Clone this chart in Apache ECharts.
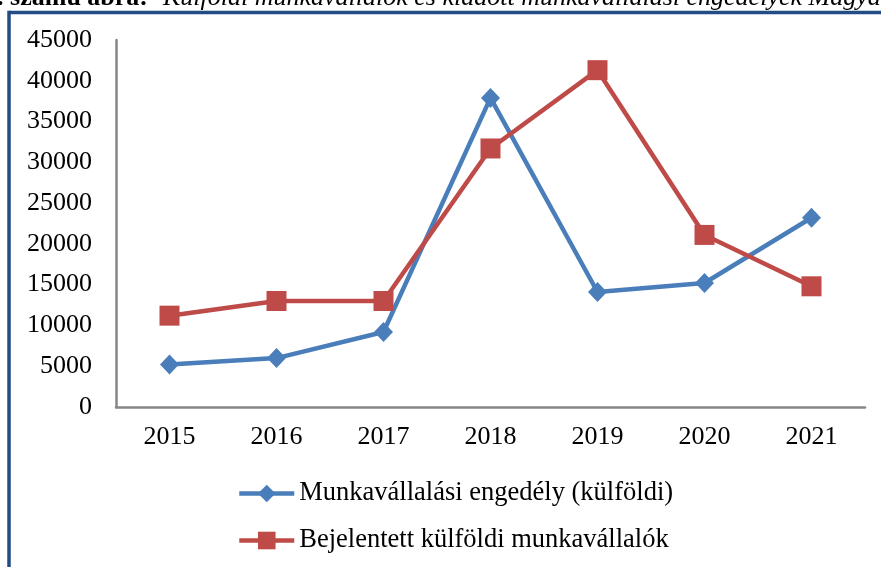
<!DOCTYPE html>
<html>
<head>
<meta charset="utf-8">
<script src="https://cdn.jsdelivr.net/npm/echarts@6/dist/echarts.min.js"></script>
<style>
  html, body { margin: 0; padding: 0; background: #fff; }
  #chart { width: 881px; height: 567px; }
</style>
</head>
<body>
<div id="chart"></div>
<script>
const years = ['2015', '2016', '2017', '2018', '2019', '2020', '2021'];
const permits = [5200, 6000, 9200, 37900, 14100, 15200, 23200];
const registered = [11200, 13000, 13000, 31700, 41300, 21100, 14800];
const seriesNames = ['Munkavállalási engedély (külföldi)', 'Bejelentett külföldi munkavállalók'];

const FONT = '"Liberation Serif", "Times New Roman", serif';
const FRAME = '#234b85';

const chart = echarts.init(document.getElementById('chart'));

chart.setOption({
  animation: false,
  textStyle: { fontFamily: FONT, color: '#000' },
  grid: { left: 116, top: 40, right: 16, bottom: 160, containLabel: false },
  xAxis: {
    type: 'category',
    data: years,
    axisLine: { lineStyle: { color: '#868686', width: 2.5 } },
    axisTick: { show: false },
    axisLabel: { fontSize: 26, fontFamily: FONT, color: '#000', margin: 17 },
    splitLine: { show: false }
  },
  yAxis: {
    type: 'value',
    min: 0,
    max: 45000,
    interval: 5000,
    axisLine: { show: true, lineStyle: { color: '#868686', width: 2.5 } },
    axisTick: { show: false },
    axisLabel: { fontSize: 26, fontFamily: FONT, color: '#000', margin: 24, formatter: v => String(v) },
    splitLine: { show: false }
  },
  legend: {
    orient: 'vertical',
    left: 237,
    top: 480,
    padding: 0,
    itemWidth: 55,
    itemHeight: 22,
    itemGap: 20,
    lineStyle: { width: 4.5 },
    textStyle: { fontSize: 26.5, fontFamily: FONT, color: '#000' },
    data: seriesNames
  },
  series: [
    {
      name: seriesNames[0],
      type: 'line',
      data: permits,
      symbol: 'diamond',
      symbolSize: [19, 20],
      lineStyle: { color: '#4a7ebb', width: 4.5 },
      itemStyle: { color: '#4a7ebb' }
    },
    {
      name: seriesNames[1],
      type: 'line',
      data: registered,
      symbol: 'rect',
      symbolSize: 20,
      lineStyle: { color: '#be4b48', width: 4.5 },
      itemStyle: { color: '#be4b48' }
    }
  ],
  graphic: [
    {
      type: 'text',
      x: 148, y: 11,
      style: {
        text: '1. számú ábra:',
        font: 'bold 26px ' + FONT,
        fill: '#000',
        align: 'right',
        verticalAlign: 'bottom'
      }
    },
    {
      type: 'text',
      x: 163, y: 11,
      style: {
        text: 'Külföldi munkavállalók és kiadott munkavállalási engedélyek Magyarországon',
        font: 'italic 26px ' + FONT,
        fill: '#000',
        align: 'left',
        verticalAlign: 'bottom'
      }
    },
    {
      type: 'line',
      shape: { x1: 9, y1: 12.5, x2: 881, y2: 12.5 },
      style: { stroke: FRAME, lineWidth: 3.5 }
    },
    {
      type: 'line',
      shape: { x1: 9, y1: 10.75, x2: 9, y2: 567 },
      style: { stroke: FRAME, lineWidth: 3.5 }
    }
  ]
});
</script>
</body>
</html>
